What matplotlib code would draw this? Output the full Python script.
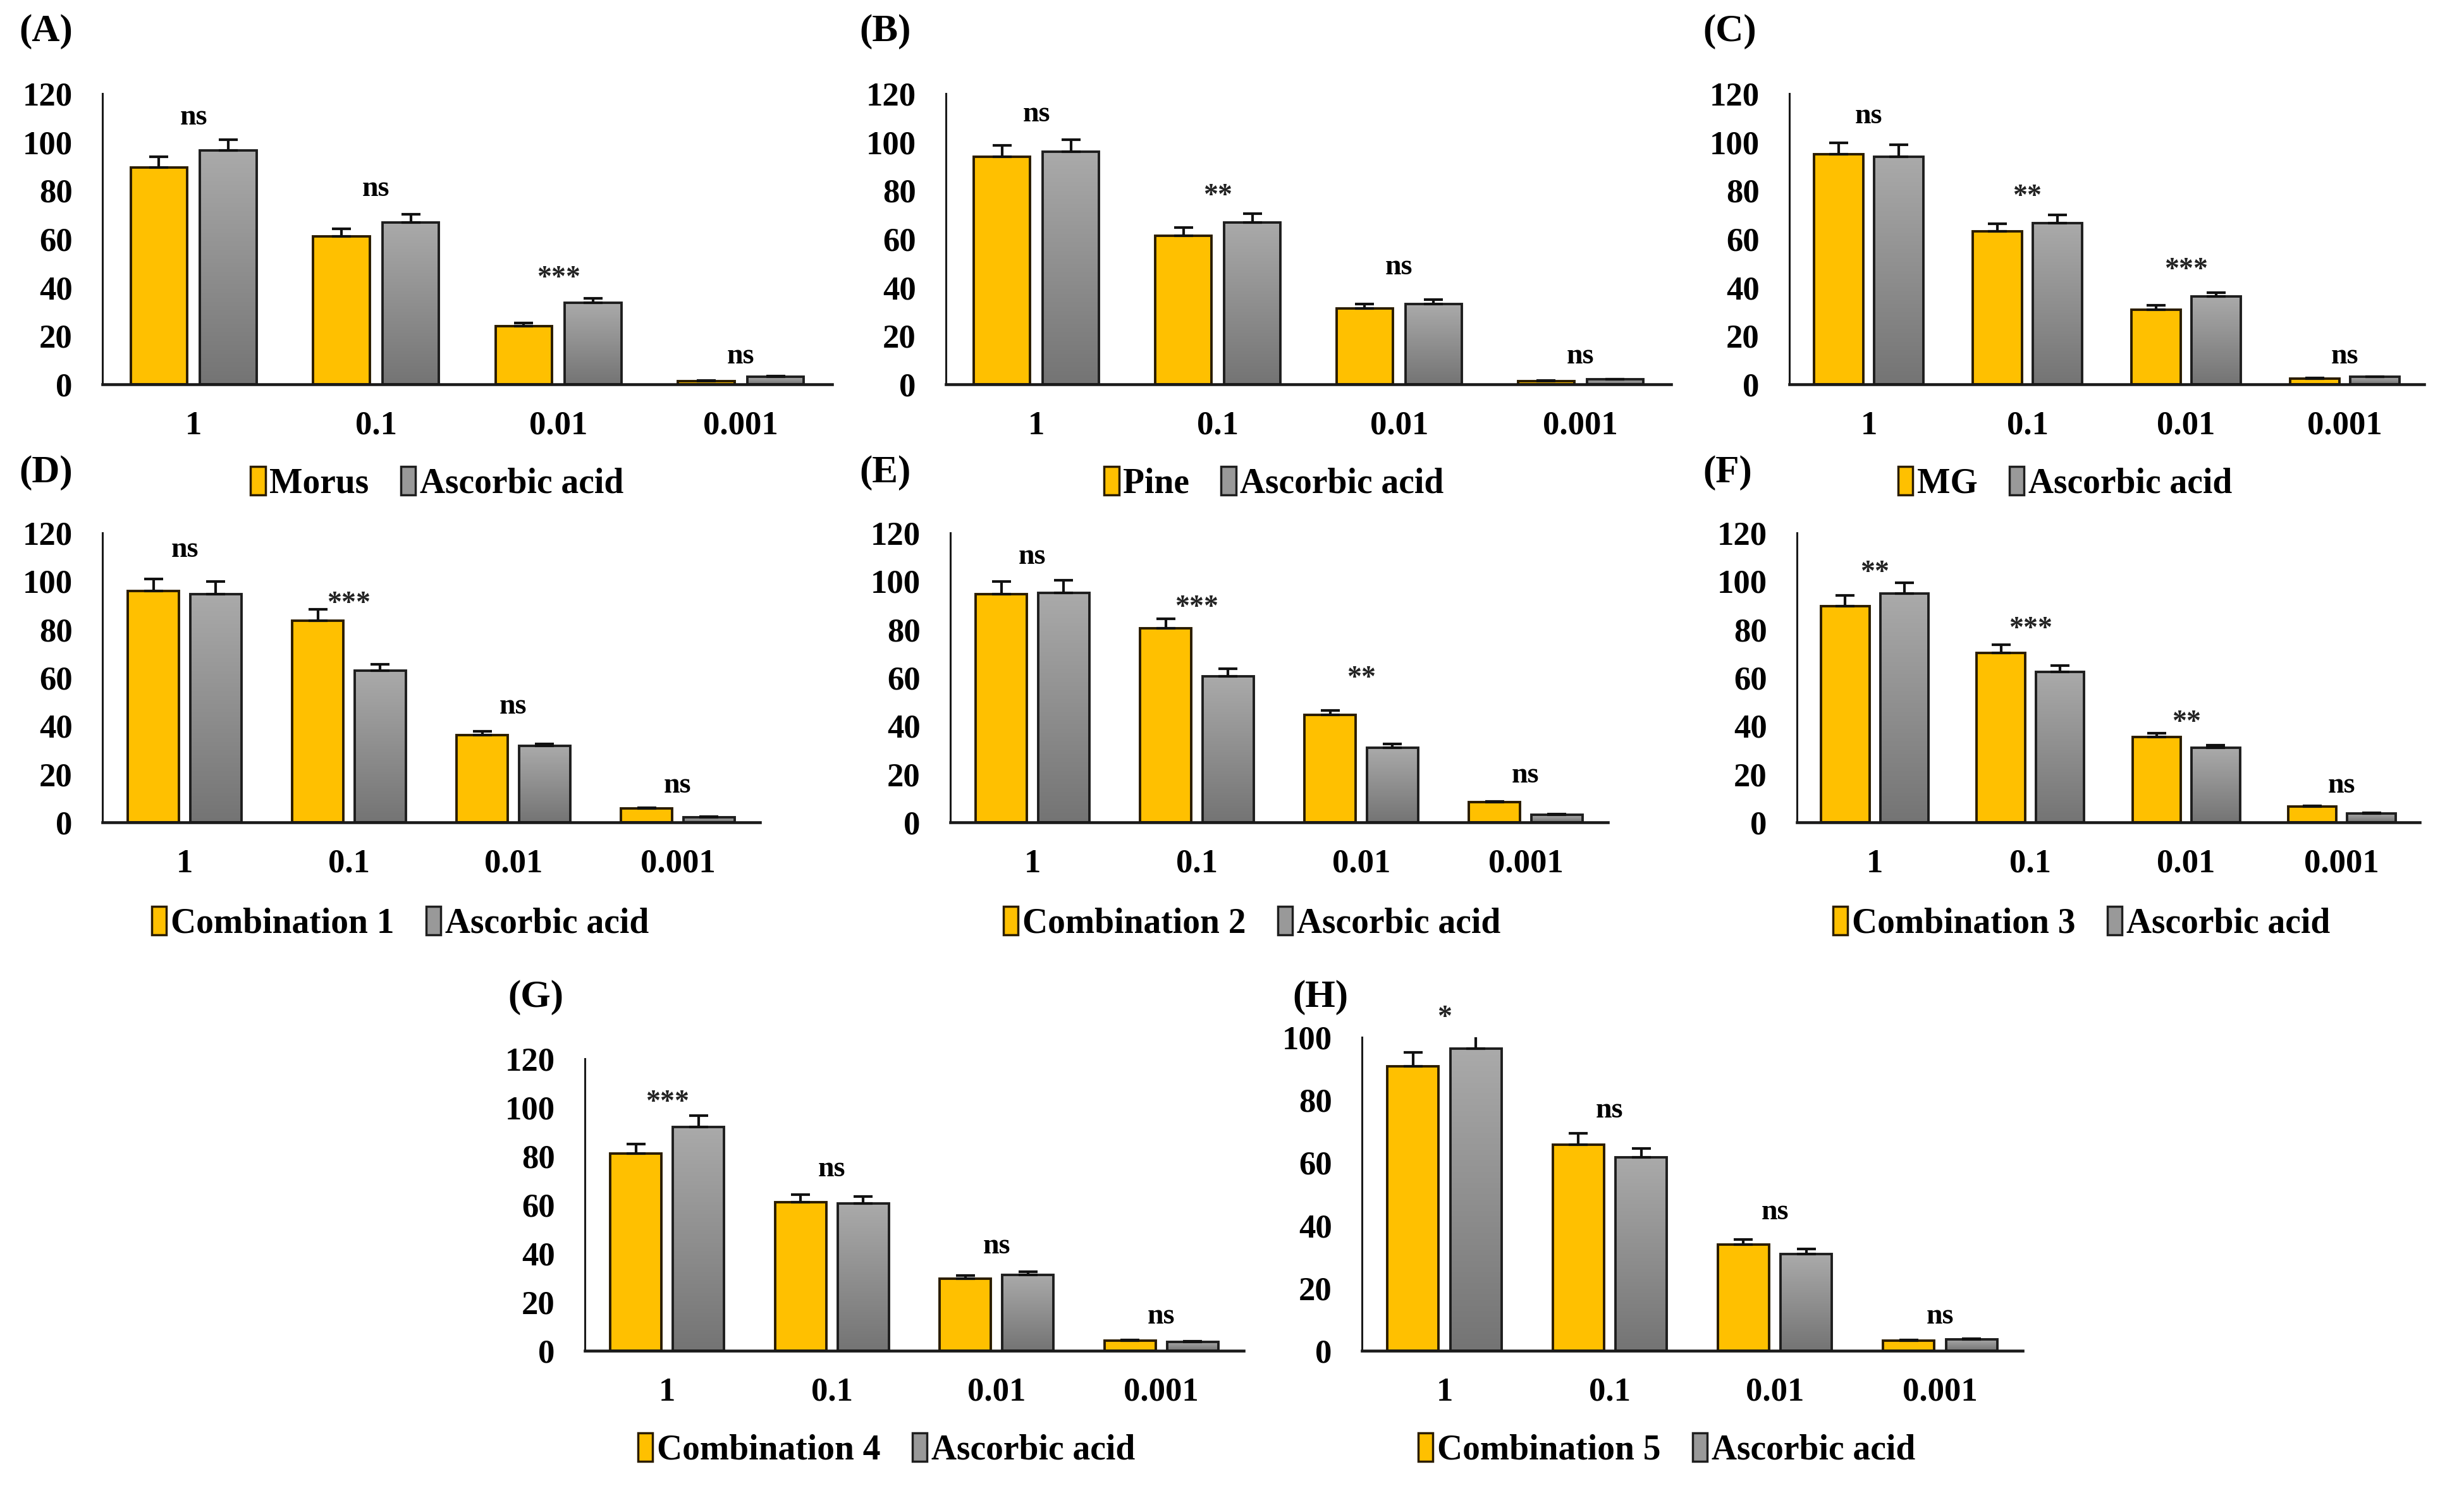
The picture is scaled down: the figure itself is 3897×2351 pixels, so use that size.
import numpy as np
import matplotlib.pyplot as plt
from matplotlib.colors import LinearSegmentedColormap
from matplotlib.patches import Patch

plt.rcParams['font.family'] = ['Liberation Serif', 'DejaVu Serif']
plt.rcParams['font.weight'] = 'bold'

# concentrations on the x axis
doses = ['1', '0.1', '0.01', '0.001']

# (A) Morus vs ascorbic acid
morus = [89.5, 61.0, 24.0, 1.3]
morus_err = [4.5, 3.2, 1.3, 0.3]
aa_a = [96.5, 66.8, 33.6, 3.0]
aa_a_err = [4.4, 3.5, 1.8, 0.3]
sig_a = ['ns', 'ns', '***', 'ns']
sig_y_a = [110, 80.5, 45, 11.4]

# (B) Pine
pine = [94.0, 61.3, 31.3, 1.3]
pine_err = [4.5, 3.4, 1.7, 0.2]
aa_b = [96.0, 66.8, 33.0, 2.0]
aa_b_err = [5.0, 3.7, 2.0, 0.2]
sig_b = ['ns', '**', 'ns', 'ns']
sig_y_b = [111.4, 79, 48.3, 11.4]

# (C) MG
mg = [95.0, 63.0, 30.7, 2.3]
mg_err = [4.7, 3.3, 1.8, 0.2]
aa_c = [94.0, 66.4, 36.3, 3.0]
aa_c_err = [5.0, 3.6, 1.6, 0.2]
sig_c = ['ns', '**', '***', 'ns']
sig_y_c = [110.7, 78.7, 48.5, 11.6]

# (D) Combination 1
comb1 = [96.0, 83.6, 36.2, 5.7]
comb1_err = [4.8, 4.6, 1.6, 0.2]
aa_d = [94.5, 62.8, 31.6, 2.1]
aa_d_err = [5.2, 2.8, 1.0, 0.3]
sig_d = ['ns', '***', 'ns', 'ns']
sig_y_d = [113, 92, 48, 15.2]

# (E) Combination 2
comb2 = [94.6, 80.4, 44.5, 8.3]
comb2_err = [5.2, 4.0, 1.8, 0.3]
aa_e = [95.2, 60.5, 31.0, 3.1]
aa_e_err = [5.1, 3.1, 1.4, 0.2]
sig_e = ['ns', '***', '**', 'ns']
sig_y_e = [110, 90.4, 60.9, 19.3]

# (F) Combination 3
comb3 = [89.5, 70.2, 35.4, 6.5]
comb3_err = [4.5, 3.4, 1.6, 0.3]
aa_f = [94.8, 62.3, 30.9, 3.7]
aa_f_err = [4.6, 2.8, 1.1, 0.2]
sig_f = ['**', '***', '**', 'ns']
sig_y_f = [104.8, 81.5, 42.7, 15.3]

# (G) Combination 4
comb4 = [81.0, 61.0, 29.6, 4.1]
comb4_err = [3.9, 3.2, 1.2, 0.2]
aa_g = [92.0, 60.4, 31.2, 3.7]
aa_g_err = [4.6, 2.9, 1.3, 0.2]
sig_g = ['***', 'ns', 'ns', 'ns']
sig_y_g = [103.4, 74.6, 42.9, 14]

# (H) Combination 5
comb5 = [90.7, 65.8, 33.8, 3.2]
comb5_err = [4.5, 3.6, 1.7, 0.3]
aa_h = [96.3, 61.6, 30.8, 3.7]
aa_h_err = [4.5, 3.0, 1.7, 0.2]
sig_h = ['*', 'ns', 'ns', 'ns']
sig_y_h = [107.5, 76.7, 44.2, 10.9]

yellow = '#FFC000'
yellow_edge = '#2a1c00'
gray_edge = '#1e1e1e'
gray_cmap = LinearSegmentedColormap.from_list('bar_gray', ['#747474', '#aaaaaa'])
grad = np.linspace(0, 1, 256).reshape(-1, 1)

W, H = 3897, 2351
fig = plt.figure(figsize=(W / 100, H / 100), dpi=100)


def px_axes(x0, x1, ytop, ybot):
    return [x0 / W, 1 - ybot / H, (x1 - x0) / W, (ybot - ytop) / H]


# name, sample, err, ref, ref_err, sig, sig_y, ymax, axes px box, label, label pos, legend pos
panels = [
    ('Morus', morus, morus_err, aa_a, aa_a_err, sig_a, sig_y_a, 120, (162, 1316, 148, 608), '(A)', (30, 50), (691, 765)),
    ('Pine', pine, pine_err, aa_b, aa_b_err, sig_b, sig_y_b, 120, (1496, 2643, 148, 608), '(B)', (1359, 50), (2015, 765)),
    ('MG', mg, mg_err, aa_c, aa_c_err, sig_c, sig_y_c, 120, (2830, 3834, 148, 608), '(C)', (2693, 50), (3266, 765)),
    ('Combination 1', comb1, comb1_err, aa_d, aa_d_err, sig_d, sig_y_d, 120, (162, 1202, 843, 1301), '(D)', (30, 748), (633, 1461)),
    ('Combination 2', comb2, comb2_err, aa_e, aa_e_err, sig_e, sig_y_e, 120, (1503, 2543, 843, 1301), '(E)', (1359, 748), (1980, 1461)),
    ('Combination 3', comb3, comb3_err, aa_f, aa_f_err, sig_f, sig_y_f, 120, (2842, 3827, 843, 1301), '(F)', (2693, 748), (3292, 1461)),
    ('Combination 4', comb4, comb4_err, aa_g, aa_g_err, sig_g, sig_y_g, 120, (925, 1967, 1675, 2137), '(G)', (803, 1578), (1402, 2294)),
    ('Combination 5', comb5, comb5_err, aa_h, aa_h_err, sig_h, sig_y_h, 100, (2154, 3199, 1641, 2137), '(H)', (2044, 1578), (2636, 2294)),
]

x = np.arange(len(doses))
w = 0.31
off = w / 2 + 0.035

for name, samp, samp_err, ref, ref_err, sig, sig_y, ymax, box, lab, lab_pos, leg_pos in panels:
    ax = fig.add_axes(px_axes(*box))

    ax.bar(x - off, samp, w, color=yellow, edgecolor=yellow_edge, linewidth=2.8, zorder=2)
    gray_bars = ax.bar(x + off, ref, w, facecolor='none', edgecolor=gray_edge, linewidth=2.8, zorder=3)
    # gradient fill for the ascorbic acid bars
    for b in gray_bars:
        bx = b.get_x()
        im = ax.imshow(grad, cmap=gray_cmap, origin='lower', aspect='auto',
                       extent=[bx, bx + b.get_width(), 0, b.get_height()],
                       interpolation='bilinear', zorder=2)
        im.set_clip_path(b)

    ax.errorbar(x - off, samp, yerr=[np.zeros(len(samp)), samp_err], fmt='none',
                ecolor='#111111', elinewidth=3, capsize=11, capthick=3, zorder=4)
    ax.errorbar(x + off, ref, yerr=[np.zeros(len(ref)), ref_err], fmt='none',
                ecolor='#111111', elinewidth=3, capsize=11, capthick=3, zorder=4)

    for xi, s, sy in zip(x, sig, sig_y):
        yy = sy - 1.5 if '*' in s else sy
        ax.text(xi, yy, s, ha='center', va='center', fontsize=33, fontweight='bold',
                color='#222222' if '*' in s else 'black')

    ax.set_xlim(-0.5, 3.5)
    ax.set_ylim(0, ymax)
    ax.set_yticks(np.arange(0, ymax + 1, 20))
    ax.set_xticks(x)
    ax.set_xticklabels(doses)
    ax.spines['top'].set_visible(False)
    ax.spines['right'].set_visible(False)
    ax.spines['left'].set_linewidth(2.2)
    ax.spines['bottom'].set_linewidth(3.3)
    ax.spines['left'].set_color('#1a1a1a')
    ax.spines['bottom'].set_color('#1a1a1a')
    ax.spines['bottom'].set_zorder(5)
    ax.tick_params(axis='y', length=0, labelsize=38, pad=34)
    ax.tick_params(axis='x', length=0, labelsize=38, pad=30)
    for t in ax.get_xticklabels() + ax.get_yticklabels():
        t.set_fontweight('bold')

    handles = [Patch(facecolor=yellow, edgecolor=yellow_edge, linewidth=2.5),
               Patch(facecolor='#999999', edgecolor=gray_edge, linewidth=2.5)]
    ax.legend(handles, [name, 'Ascorbic acid'], loc='center',
              bbox_to_anchor=(leg_pos[0] / W, 1 - leg_pos[1] / H),
              bbox_transform=fig.transFigure, ncol=2, frameon=False,
              prop={'size': 40, 'weight': 'bold'}, handlelength=0.42,
              handleheight=0.85, handletextpad=0.12, columnspacing=0.9,
              borderaxespad=0)

    fig.text(lab_pos[0] / W, 1 - lab_pos[1] / H, lab, fontsize=44, fontweight='bold',
             ha='left', va='center')

fig.savefig('out.png', dpi=100)
